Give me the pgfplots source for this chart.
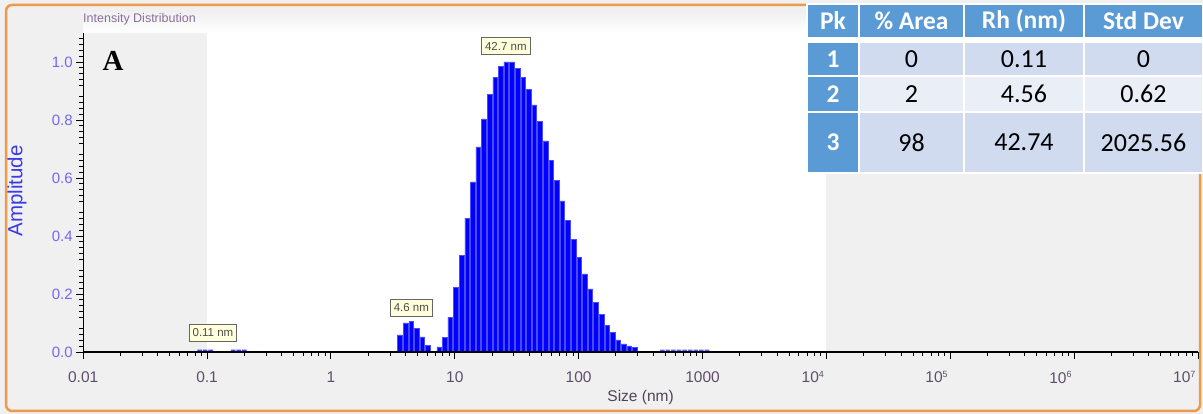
\documentclass[border=0pt]{standalone}
\usepackage{pgfplots}
\pgfplotsset{compat=1.18}
\usepackage{pgfplotstable}
\usepackage{fontspec}
\setmainfont{Liberation Sans}
\newfontfamily\timesf{Liberation Serif}
\newfontfamily\calib{Carlito}
\definecolor{frameor}{HTML}{EE9A4D}
\definecolor{bggray}{HTML}{F0F0F0}
\definecolor{hdrblue}{HTML}{5B9BD5}
\definecolor{rowA}{HTML}{D0DBEF}
\definecolor{rowB}{HTML}{E9EEF7}
\definecolor{ytl}{HTML}{7468EE}
\definecolor{xtl}{HTML}{5E4E6A}
\definecolor{amp}{HTML}{3A3AE6}
\definecolor{barblue}{HTML}{0000FF}
\definecolor{baredge}{HTML}{4A4AFF}
\definecolor{boxfill}{HTML}{FFFFDC}
\definecolor{titlecol}{HTML}{8A6E9A}

\pgfplotstableread{
x y
0.0870 0.008
0.0965 0.008
0.1071 0.008
0.1624 0.008
0.1803 0.008
0.2000 0.008
}\peakA
\pgfplotstableread{
x y
3.605 0.059
4.000 0.100
4.440 0.105
4.926 0.082
5.467 0.052
6.067 0.022
}\peakB
\pgfplotstableread{
x y
7.470 0.018
8.288 0.051
9.198 0.120
10.21 0.222
11.33 0.334
12.57 0.462
13.95 0.587
15.48 0.707
17.18 0.804
19.06 0.888
21.15 0.947
23.47 0.984
26.05 1.000
28.91 1.000
32.08 0.979
35.60 0.947
39.50 0.905
43.84 0.852
48.64 0.795
53.98 0.728
59.90 0.662
66.47 0.592
73.77 0.521
81.86 0.455
90.84 0.389
100.8 0.327
111.8 0.269
124.1 0.218
137.7 0.170
152.8 0.129
169.6 0.093
188.2 0.068
208.8 0.042
231.7 0.028
257.1 0.021
285.3 0.016
}\peakC
\pgfplotstableread{
x y
472.8 0.008
524.7 0.008
582.3 0.008
646.1 0.008
717.0 0.008
795.7 0.008
883.0 0.008
979.7 0.008
1087.2 0.008
}\peakD

\newcommand{\tenpow}[1]{\llap{10\textsuperscript{\fontsize{9}{10}\selectfont #1}}\hspace*{4pt}}

\begin{document}
\begin{tikzpicture}[x=1pt,y=1pt]
% outer frame
\fill[bggray] (0,0) rectangle (1203,414);
\draw[frameor, line width=2.5pt, fill=bggray, rounded corners=6pt] (6,3) rectangle (1200,409);
% header bar
\shade[top color=bggray, bottom color=white] (83,381) rectangle (1198,403);
\node[anchor=west, inner sep=0pt, text=titlecol, font=\fontsize{12.5}{14}\selectfont] at (83,395) {Intensity Distribution};

\begin{axis}[
  at={(83.2pt,62pt)}, anchor=south west,
  scale only axis, width=1114.8pt, height=319pt,
  xmode=log, xmin=0.01, xmax=1e7, ymin=0, ymax=1.1,
  axis on top,
  axis x line*=bottom, axis y line*=left,
  axis line style={line width=1.3pt, -},
  tick align=outside, major tick length=7pt, minor tick length=4pt,
  every tick/.style={black, line width=0.9pt},
  xtick={0.01,0.1,1,10,100,1000,1e4,1e5,1e6,1e7},
  xticklabels={0.01,0.1,1,10,100,1000,\tenpow{4},\tenpow{5},\tenpow{6},\tenpow{7}},
  minor xtick={0.02,0.03,0.04,0.05,0.06,0.07,0.08,0.09,
    0.2,0.3,0.4,0.5,0.6,0.7,0.8,0.9,
    2,3,4,5,6,7,8,9,
    20,30,40,50,60,70,80,90,
    200,300,400,500,600,700,800,900,
    2000,3000,4000,5000,6000,7000,8000,9000,
    2e4,3e4,4e4,5e4,6e4,7e4,8e4,9e4,
    2e5,3e5,4e5,5e5,6e5,7e5,8e5,9e5,
    2e6,3e6,4e6,5e6,6e6,7e6,8e6,9e6},
  ytick={0,0.2,0.4,0.6,0.8,1.0},
  minor ytick={0.02,0.04,0.06,0.08,0.12,0.14,0.16,0.18,0.22,0.24,0.26,0.28,0.32,0.34,0.36,0.38,0.42,0.44,0.46,0.48,0.52,0.54,0.56,0.58,0.62,0.64,0.66,0.68,0.72,0.74,0.76,0.78,0.82,0.84,0.86,0.88,0.92,0.94,0.96,0.98,1.02,1.04,1.06,1.08},
  /pgf/number format/assume math mode=true,
  yticklabel style={/pgf/number format/fixed, /pgf/number format/fixed zerofill, /pgf/number format/precision=1, text=ytl, font=\fontsize{15}{17}\selectfont},
  xticklabel style={text=xtl, font=\fontsize{15.5}{17}\selectfont, yshift=-9pt},
  xlabel={Size (nm)},
  xlabel style={at={(axis description cs:0.5,-0.142)}, anchor=center, text=xtl!85!black, font=\fontsize{15.5}{17}\selectfont},
  ylabel={Amplitude},
  ylabel style={at={(axis description cs:-0.0592,0.505)}, anchor=center, rotate=0, text=amp, font=\fontsize{20.5}{22}\selectfont},
  clip=false,
]
\fill[white] (axis cs:0.1,0) rectangle (axis cs:1e4,1.1);
\addplot[ybar, bar width=4.6pt, bar shift=0pt, fill=barblue!75!white, draw=none] table[x=x,y=y] {\peakA};
\addplot[ybar, bar width=4.6pt, bar shift=0pt, fill=barblue, draw=baredge, line width=0.5pt] table[x=x,y=y] {\peakB};
\addplot[ybar, bar width=4.6pt, bar shift=0pt, fill=barblue, draw=baredge, line width=0.5pt] table[x=x,y=y] {\peakC};
\addplot[ybar, bar width=4.6pt, bar shift=0pt, fill=barblue!65!white, draw=none] table[x=x,y=y] {\peakD};
\node[fill=boxfill, draw=gray!80!black, line width=1.2pt, inner xsep=3.5pt, inner ysep=4.5pt, text=black!70, font=\fontsize{11.5}{13}\selectfont] at (axis cs:0.1116,0.0655) {0.11 nm};
\node[fill=boxfill, draw=gray!80!black, line width=1.2pt, inner xsep=3.5pt, inner ysep=4.5pt, text=black!70, font=\fontsize{11.5}{13}\selectfont] at (axis cs:4.464,0.152) {4.6 nm};
\node[fill=boxfill, draw=gray!80!black, line width=1.2pt, inner xsep=3.5pt, inner ysep=4.5pt, text=black!70, font=\fontsize{11.5}{13}\selectfont] at (axis cs:25.85,1.055) {42.7 nm};
\end{axis}

% panel letter
\node[font=\timesf\bfseries\fontsize{29}{32}\selectfont, inner sep=0pt] at (113,353) {A};

% table
\begin{scope}[font=\calib\fontsize{26}{28}\selectfont]
\fill[white] (806,240) rectangle (1203,411);
% header
\fill[hdrblue] (808,377) rectangle (858,409);
\fill[hdrblue] (860,377) rectangle (963,409);
\fill[hdrblue] (965,377) rectangle (1083,409);
\fill[hdrblue] (1085,377) rectangle (1202,409);
\node[text=white, font=\calib\bfseries\fontsize{25.5}{27}\selectfont] at (833,393) {Pk};
\node[text=white, font=\calib\bfseries\fontsize{25.5}{27}\selectfont] at (911.5,393) {\% Area};
\node[text=white, font=\calib\bfseries\fontsize{25.5}{27}\selectfont] at (1024,393) {Rh (nm)};
\node[text=white, font=\calib\bfseries\fontsize{25.5}{27}\selectfont] at (1143.5,393) {Std Dev};
% row 1
\fill[hdrblue] (808,339) rectangle (858,371);
\fill[rowA] (860,339) rectangle (963,371);
\fill[rowA] (965,339) rectangle (1083,371);
\fill[rowA] (1085,339) rectangle (1202,371);
\node[text=white, font=\calib\bfseries\fontsize{25.5}{27}\selectfont] at (833,355) {1};
\node at (911.5,355) {0};
\node at (1024,355) {0.11};
\node at (1143.5,355) {0};
% row 2
\fill[hdrblue] (808,303) rectangle (858,337);
\fill[rowB] (860,303) rectangle (963,337);
\fill[rowB] (965,303) rectangle (1083,337);
\fill[rowB] (1085,303) rectangle (1202,337);
\node[text=white, font=\calib\bfseries\fontsize{25.5}{27}\selectfont] at (833,320) {2};
\node at (911.5,320) {2};
\node at (1024,320) {4.56};
\node at (1143.5,320) {0.62};
% row 3
\fill[hdrblue] (808,242) rectangle (858,301);
\fill[rowA] (860,242) rectangle (963,301);
\fill[rowA] (965,242) rectangle (1083,301);
\fill[rowA] (1085,242) rectangle (1202,301);
\node[text=white, font=\calib\bfseries\fontsize{25.5}{27}\selectfont] at (833,271.5) {3};
\node at (911.5,271.5) {98};
\node at (1024,271.5) {42.74};
\node at (1143.5,271.5) {2025.56};
\end{scope}

\pgfresetboundingbox
\path (0,0) rectangle (1203,414);
\end{tikzpicture}
\end{document}
